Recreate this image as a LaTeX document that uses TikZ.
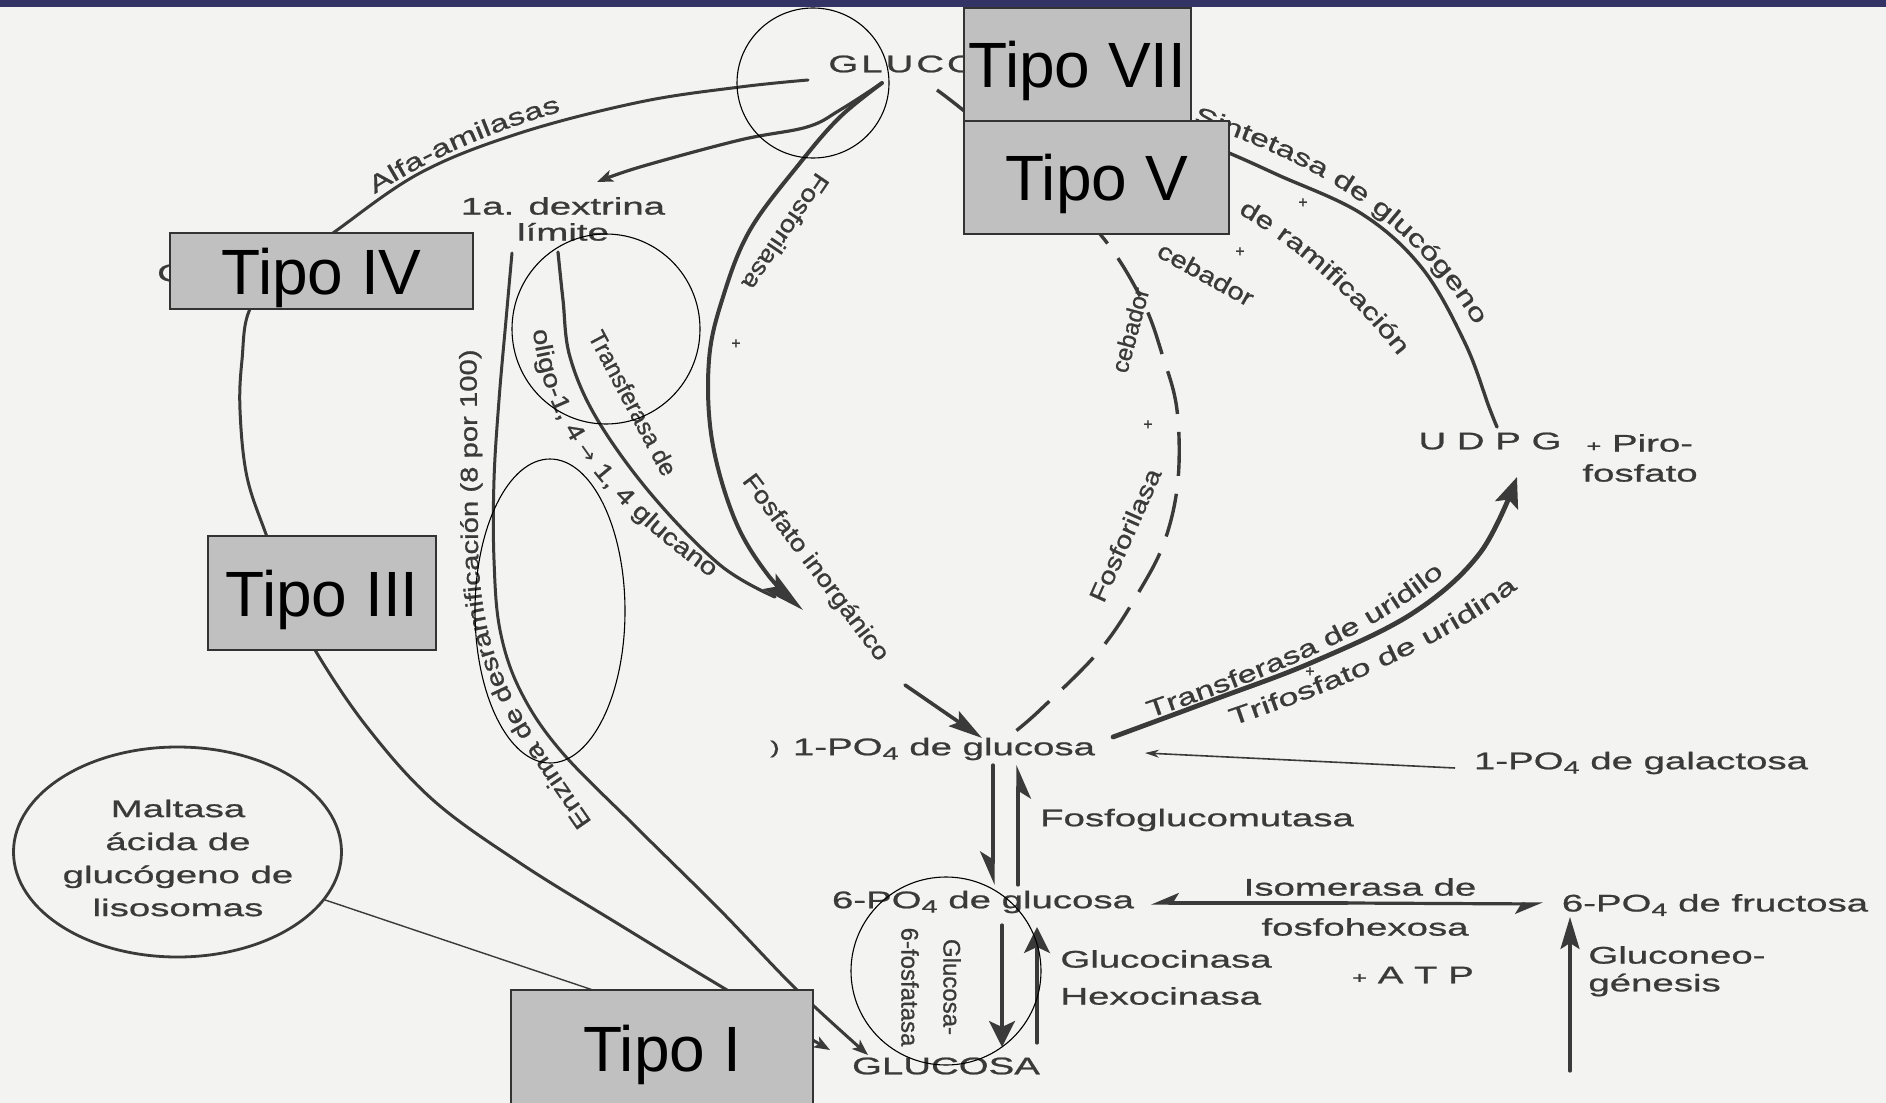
\documentclass[tikz,border=0pt]{standalone}
\usepackage{fontspec}
\setmainfont{Liberation Sans}
\newfontfamily\scanH[FakeStretch=1.6,FakeBold=0.9]{Liberation Sans}
\newfontfamily\scanB[FakeStretch=1.5,FakeBold=0.9]{Liberation Sans}
\newfontfamily\scanA[FakeStretch=1.42,FakeBold=0.9]{Liberation Sans}
\newfontfamily\scanR[FakeStretch=1.34,FakeBold=0.9]{Liberation Sans}
\newfontfamily\scanM[FakeStretch=1.22,FakeBold=0.9]{Liberation Sans}
\newfontfamily\scanD[FakeStretch=1.15,FakeBold=0.9]{Liberation Sans}
\newfontfamily\scanV[FakeBold=0.9]{Liberation Sans}
\newfontfamily\arrowfont{DejaVu Sans}
\newfontfamily\tipofont{Liberation Sans}
\usetikzlibrary{arrows.meta,decorations.text,shapes.geometric}
\definecolor{ink}{RGB}{58,58,58}
\definecolor{bgpaper}{RGB}{243,243,241}
\definecolor{barnavy}{RGB}{51,51,102}
\definecolor{boxgray}{RGB}{192,192,192}
\newcommand\szN{\fontsize{12}{14}\selectfont}
\newcommand\lowsub[1]{\raisebox{-0.35ex}{\fontsize{9}{9}\selectfont #1}}
\newcommand\smallplus{{\fontsize{8}{8}\selectfont +}}
\begin{document}
\begin{tikzpicture}[x=0.5pt,y=-0.5pt,
  lab/.style={font=\scanH\szN, text=ink, inner sep=0pt},
  rlab/.style={text=ink, inner sep=0pt},
  curveln/.style={draw=ink, line width=1.75pt, line cap=round},
  thinln/.style={draw=ink, line width=0.8pt},
  tipo/.style={draw=black!80, fill=boxgray, line width=0.7pt, font=\tipofont\fontsize{32}{36}\selectfont, text=black, inner sep=0pt, text depth=0pt},
  ov/.style={draw=black, line width=0.55pt, ellipse, inner sep=0pt},
  smallhead/.style={-{Stealth[length=8pt,width=6pt,inset=2pt]}},
  harp/.style={-{Stealth[harpoon,swap,length=15pt,width=13pt,inset=4pt]}},
  harpsm/.style={-{Stealth[harpoon,swap,length=12pt,width=10pt,inset=3pt]}},
  fullhead/.style={-{Stealth[length=13pt,width=13pt,inset=3pt]}},
]
\useasboundingbox (0,0) rectangle (1886,1103);
\fill[bgpaper] (0,0) rectangle (1886,1103);
\fill[barnavy] (0,0) rectangle (1886,7);

% ---------- coordinates ----------
\coordinate (aS) at (808,80);
\coordinate (aE) at (830,1050);
\coordinate (eS) at (512,253);
\coordinate (eE) at (868,1055);
\coordinate (tS) at (558,252);
\coordinate (tE) at (775,597);
\coordinate (gTip) at (882,83);
\coordinate (pTip) at (803,610);
\coordinate (dE) at (597,182);
\coordinate (fiS) at (905,685);
\coordinate (fiE) at (982,738);
\coordinate (dsS) at (937,90);
\coordinate (dsE) at (1012,734);
\coordinate (siS) at (1150,120);
\coordinate (siE) at (1497,427);
\coordinate (uS) at (1113,737);
\coordinate (uE) at (1517,477);
\coordinate (gaS) at (1455,768);
\coordinate (gaE) at (1145,753);
\coordinate (v1a) at (993,765);  \coordinate (v1b) at (993,885);
\coordinate (v2a) at (1018,885); \coordinate (v2b) at (1018,765);
\coordinate (v3a) at (1002,925); \coordinate (v3b) at (1002,1047);
\coordinate (v4a) at (1037,1043);\coordinate (v4b) at (1037,927);
\coordinate (isoM) at (1347,903);
\coordinate (isoL) at (1151,903);
\coordinate (isoR) at (1543,904);
\coordinate (gnA) at (1570,1071);
\coordinate (gnB) at (1570,917);
\coordinate (mlE) at (700,1026);

% ---------- curves ----------
\draw[curveln, line width=1.5pt, smallhead] plot[smooth, tension=0.6] coordinates {(aS) (740,87) (640,102) (520,133) (420,173) (333,233) (285,268) (250,309) (242,360) (240,410) (247,477) (267,537) (288,595) (315,650) (367,727) (433,800) (520,863) (620,925) (727,990) (aE)};
\draw[curveln, line width=1.5pt, smallhead] plot[smooth, tension=0.6] coordinates {(eS) (506,320) (499,400) (494,480) (494,560) (500,630) (520,690) (560,750) (636,827) (720,910) (797,990) (eE)};
\draw[curveln, line width=1.6pt] plot[smooth, tension=0.6] coordinates {(tS) (563,300) (570,357) (597,419) (651,494) (720,565) (tE)};
\draw[curveln, line width=2pt, -{Stealth[length=22pt,width=10pt,inset=4pt]}] plot[smooth, tension=0.6] coordinates {(gTip) (840,117) (800,163) (750,230) (723,297) (709,360) (712,440) (735,520) (768,575) (pTip)};
\draw[curveln, line width=1.6pt, smallhead] plot[smooth, tension=0.6] coordinates {(gTip) (840,110) (807,127) (740,140) (640,167) (dE)};
\draw[curveln, line width=1.8pt, -{Stealth[length=17pt,width=9pt,inset=3pt]}] (fiS) -- (fiE);
\draw[draw=ink, line width=1.7pt, dash pattern=on 22pt off 9pt] plot[smooth, tension=0.6] coordinates {(dsS) (963,110) (1030,165) (1100,234) (1142,300) (1163,357) (1177,410) (1178,480) (1165,540) (1140,590) (1100,650) (1040,710) (dsE)};
\draw[curveln, line width=1.7pt] plot[smooth, tension=0.6] coordinates {(siS) (1229,153) (1278,175) (1362,214) (1422,268) (1465,343) (1489,407) (siE)};
\draw[curveln, line width=2.4pt, -{Stealth[length=15pt,width=12pt,inset=3pt]}] plot[smooth, tension=0.6] coordinates {(uS) (1213,700) (1313,662) (1413,613) (1480,553) (uE)};
\draw[thinln, -{Stealth[length=7pt,width=4pt]}] (gaS) -- (gaE);
\draw[curveln, line width=1.6pt, harp] (v1a) -- (v1b);
\draw[curveln, line width=1.6pt, harp] (v2a) -- (v2b);
\draw[curveln, line width=1.6pt, fullhead] (v3a) -- (v3b);
\draw[curveln, line width=1.6pt, fullhead] (v4a) -- (v4b);
\draw[curveln, line width=1.6pt, harpsm] (isoM) -- (isoL);
\draw[curveln, line width=1.6pt, harpsm] (isoM) -- (isoR);
\draw[curveln, line width=1.6pt, -{Stealth[length=16pt,width=9.5pt,inset=3pt]}] (gnA) -- (gnB);

% ---------- horizontal labels ----------
\node[lab, anchor=west] (glcTop) at (828,64) {G\kern1.5pt L\kern1.5pt U\kern1.5pt C\kern1.5pt O};
\node[lab, align=center, font=\scanH\fontsize{12}{13}\selectfont] (dext) at (563,219) {1a. dextrina\\límite};
\node[lab] (brk) at (775,749) {\fontsize{9}{9}\selectfont )};
\node[lab] (g1p) at (944,749) {1-PO\lowsub{4} de glucosa};
\node[lab] (g6p) at (983,902) {6-PO\lowsub{4} de glucosa};
\node[lab] (glcBot) at (946,1066) {GLUCOSA};
\node[lab] (pgm) at (1197,820) {Fosfoglucomutasa};
\node[lab] (iso1) at (1360,887) {Isomerasa de};
\node[lab] (iso2) at (1365,927) {fosfohexosa};
\node[lab] (f6p) at (1715,905) {6-PO\lowsub{4} de fructosa};
\node[lab] (gal) at (1641,763) {1-PO\lowsub{4} de galactosa};
\node[lab, anchor=west] (gk) at (1060,959) {Glucocinasa};
\node[lab, anchor=west] (hk) at (1060,996) {Hexocinasa};
\node[lab] (atp) at (1413,975) {\smallplus\ A T P};
\node[lab, anchor=west] (gng1) at (1588,955) {Gluconeo-};
\node[lab, anchor=west] (gng2) at (1588,985) {génesis};
\node[lab] (udpg) at (1490,441) {U D P G};
\node[lab, anchor=west] (piro1) at (1586,443) {\smallplus\ Piro-};
\node[lab, anchor=west] (piro2) at (1582,473) {fosfato};
\node[lab] (cfrag) at (171,273) {C};
\node[lab, align=center, font=\scanH\fontsize{12}{16.5}\selectfont] (malttxt) at (178,858) {Maltasa\\ácida de\\glucógeno de\\lisosomas};

% ---------- rotated labels ----------
\node[rlab, font=\scanD\szN, rotate=-124] (fos1) at (786,232) {Fosforilasa};
\node[rlab, font=\scanV\szN, rotate=-62] (trf) at (633,403) {Transferasa de};
\node[rlab, font=\scanD\szN, rotate=-53] (fin) at (815,568) {Fosfato inorgánico};
\node[rlab, font=\scanM\szN, rotate=66] (fos2) at (1125,535) {Fosforilasa};
\node[rlab, font=\scanV\szN, rotate=75] (ceb1) at (1130,330) {cebador};
\node[rlab, font=\scanM\szN, rotate=-29] (ceb2) at (1206,274) {cebador};
\node[rlab, font=\scanV\fontsize{12}{21}\selectfont, rotate=-90, align=center] (g6pase) at (931,987) {Glucosa-\\6-fosfatasa};
\node[rlab, font=\scanV\fontsize{8}{8}\selectfont] (pl1) at (736,344) {+};
\node[rlab, font=\scanV\fontsize{8}{8}\selectfont] (pl2) at (1148,425) {+};
\node[rlab, font=\scanV\fontsize{8}{8}\selectfont] (pl3) at (1303,203) {+};
\node[rlab, font=\scanV\fontsize{8}{8}\selectfont] (pl4) at (1240,252) {+};
\node[rlab, font=\scanV\fontsize{8}{8}\selectfont] (pl5) at (1310,672) {+};

% ---------- text along curves ----------
\path[decorate, decoration={text along path, text align=center, text={|\scanA\szN\color{ink}|Alfa-amilasas}}] (350,211) .. controls (400,175) and (480,130) .. (590,104);
\path[decorate, decoration={text along path, text align=left, text={|\scanA\szN\color{ink}|Sintetasa de glucógeno}}] (1193,122) .. controls (1292,155) and (1405,205) .. (1478,330);
\path[decorate, decoration={text along path, text align=left, text={|\scanR\szN\color{ink}|de ramificación}}] (1238,213) .. controls (1290,243) and (1360,298) .. (1425,392);
\path[decorate, decoration={text along path, text align=left, text={|\scanM\szN\color{ink}|oligo-1, 4 |\arrowfont\fontsize{11}{13}\selectfont\color{ink}|→|\scanM\szN\color{ink}| 1, 4 glucano}}] (533,330) .. controls (545,440) and (620,520) .. (750,604);
\path[decorate, decoration={text along path, text align=left, text={|\scanM\szN\color{ink}|Enzima de desramificación (8 por 100)}}] (592,822) .. controls (520,718) and (479,665) .. (478,540) -- (476,300);
\path[decorate, decoration={text along path, text align=center, text={|\scanA\szN\color{ink}|Transferasa de uridilo}}] (1130,725) .. controls (1230,690) and (1370,645) .. (1460,560);
\path[decorate, decoration={text along path, text align=center, text={|\scanB\szN\color{ink}|Trifosfato de uridina}}] (1205,735) .. controls (1310,700) and (1450,650) .. (1540,570);

% ---------- Maltasa ellipse ----------
\node[draw=ink, line width=1.4pt, ellipse, minimum width=164pt, minimum height=105pt, inner sep=0pt] (malt) at (177.5,852) {};
\draw[thinln, line width=0.7pt] (malt.-18) -- (mlE);

% ---------- overlay ellipses ----------
\node[ov, minimum width=76pt, minimum height=75pt] (ovG) at (813,83) {};
\node[ov, minimum width=94pt, minimum height=95pt] (ovT) at (606,329) {};
\node[ov, minimum width=75pt, minimum height=152pt] (ovE) at (550,611) {};
\node[ov, minimum width=95pt, minimum height=94pt] (ovP) at (946,971) {};

% ---------- Tipo boxes ----------
\node[tipo, minimum width=113.5pt, minimum height=56.5pt] (t7) at (1077.5,64.5) {Tipo VII};
\node[tipo, minimum width=132.5pt, minimum height=56.5pt] (t5) at (1096.5,177.5) {Tipo V};
\node[tipo, minimum width=151.5pt, minimum height=38pt] (t4) at (321.5,271) {Tipo IV};
\node[tipo, minimum width=114pt, minimum height=57pt] (t3) at (322,593) {Tipo III};
\node[tipo, minimum width=151pt, minimum height=58pt] (t1) at (662,1048) {Tipo I};
\end{tikzpicture}
\end{document}
